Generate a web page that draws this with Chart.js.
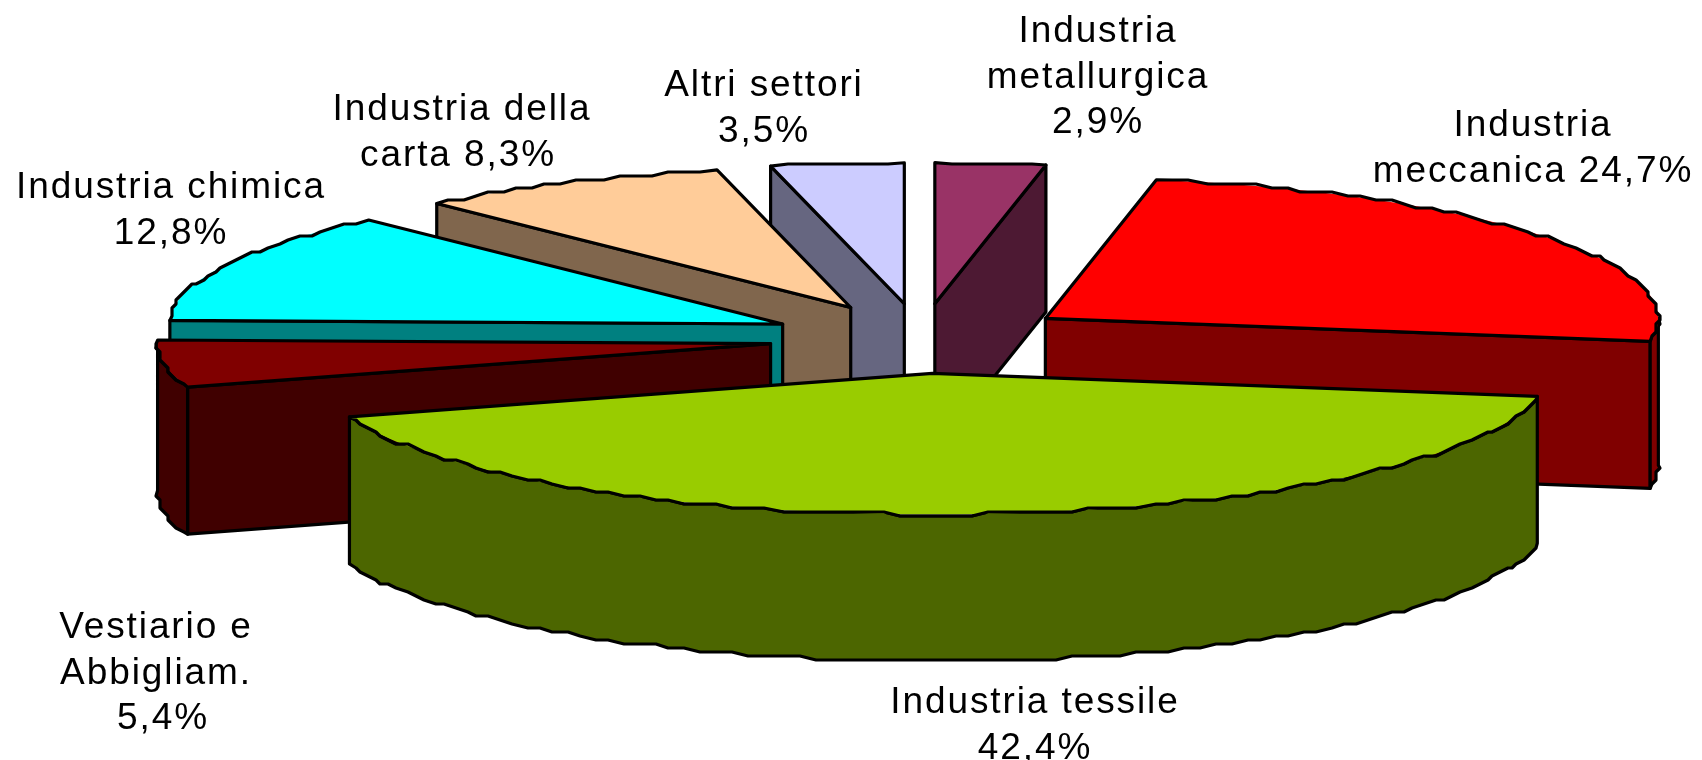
<!DOCTYPE html>
<html>
<head>
<meta charset="utf-8">
<style>html,body{margin:0;padding:0;background:#fff}#w{width:1702px;height:760px}canvas{display:block}</style>
<script src="https://cdn.jsdelivr.net/npm/chart.js@4/dist/chart.umd.min.js"></script>
</head>
<body>
<div id="w"><canvas id="c" width="1702" height="760"></canvas></div>
<script>
const categories = ['Industria metallurgica','Industria meccanica','Industria tessile','Vestiario e Abbigliam.','Industria chimica','Industria della carta','Altri settori'];
const values = [2.9,24.7,42.4,5.4,12.8,8.3,3.5];
const topColors = ['#993366','#FF0000','#99CC00','#800000','#00FFFF','#FFCC99','#CCCCFF'];
const wallColors = ['#4D1933','#800000','#4C6600','#400000','#008080','#80664D','#666680'];
const labelLines = [
  ['Industria','metallurgica','2,9%'],
  ['Industria','meccanica 24,7%'],
  ['Industria tessile','42,4%'],
  ['Vestiario e','Abbigliam.','5,4%'],
  ['Industria chimica','12,8%'],
  ['Industria della','carta 8,3%'],
  ['Altri settori','3,5%']
];
// label anchor: centre x, first baseline y, and each line's small x shift
const labelAnchorX = [1098,1533,1035,156,171,460,764];
const labelAnchorY = [42,136,713,638,198,120,96];
const labelLineShift = [[0,0,0],[0,0],[0,0],[0,0,7],[0,0],[2,-2],[0,0]];

const SQUASH = 0.23, EXPLODE = 152, DEPTH = 147, LINE = 3.2, JAG = 4;

const pie3d = {
  id:'pie3d',
  beforeDatasetsDraw(chart){
    const ctx = chart.ctx, meta = chart.getDatasetMeta(0);
    const mid = a => (a.startAngle + a.endAngle)/2;
    const order = meta.data.map((a,i)=>({a,i})).sort((p,q)=>Math.sin(mid(p.a))-Math.sin(mid(q.a)));
    ctx.lineJoin='round'; ctx.lineWidth=LINE; ctx.strokeStyle='#000';
    for(const {a,i} of order){
      const m = mid(a), ox=a.x+Math.cos(m)*EXPLODE, oy=a.y+Math.sin(m)*EXPLODE*SQUASH;
      const r=a.outerRadius, s=a.startAngle, e=a.endAngle;
      const pt=(t,d=0)=>[ox+r*Math.cos(t), oy+r*Math.sin(t)*SQUASH+d];
      // the rim as the reference's coarse, stepped polyline
      const rim=(lo,hi,d=0)=>{
        const n=Math.max(2,Math.round((hi-lo)/(1.6*Math.PI/180))),pts=[];
        for(let j=0;j<=n;j++){
          const p=pt(lo+(hi-lo)*j/n,d);
          pts.push(j===0||j===n?p:[Math.round(p[0]/JAG)*JAG,Math.round(p[1]/JAG)*JAG]);
        }
        return pts;
      };
      const poly=(pts)=>{ctx.beginPath();pts.forEach((p,k)=>k?ctx.lineTo(p[0],p[1]):ctx.moveTo(p[0],p[1]));ctx.closePath();ctx.fillStyle=wallColors[i];ctx.fill();ctx.stroke();};
      const apex=[ox,oy], apexD=[ox,oy+DEPTH];
      if(Math.cos(s)<-1e-3) poly([apex,pt(s),pt(s,DEPTH),apexD]);
      if(Math.cos(e)>1e-3) poly([apex,pt(e),pt(e,DEPTH),apexD]);
      // rim wall: portions of the slice facing the viewer (sin > 0)
      for(const k of [-1,0,1]){
        const lo=Math.max(s,k*2*Math.PI), hi=Math.min(e,k*2*Math.PI+Math.PI);
        if(hi>lo) poly([...rim(lo,hi),...rim(lo,hi,DEPTH).reverse()]);
      }
      // top face: the library's own arc, flattened
      ctx.save();
      ctx.translate(ox,oy);ctx.scale(1,SQUASH);ctx.translate(-a.x,-a.y);
      a.draw(ctx);
      ctx.restore();
      // outline of top face
      ctx.beginPath();ctx.moveTo(ox,oy);
      for(const p of rim(s,e))ctx.lineTo(p[0],p[1]);
      ctx.closePath();ctx.stroke();
    }
    return false;
  },
  afterDraw(chart){
    const ctx=chart.ctx;
    ctx.save();
    ctx.fillStyle='#000';ctx.textAlign='center';ctx.textBaseline='alphabetic';
    ctx.font='37px "Liberation Sans", Arial, sans-serif';
    ctx.letterSpacing='1.9px';
    labelLines.forEach((lines,i)=>lines.forEach((t,k)=>ctx.fillText(t,labelAnchorX[i]+labelLineShift[i][k],labelAnchorY[i]+k*45.5)));
    ctx.restore();
  }
};

new Chart(document.getElementById('c'),{
  type:'pie',
  data:{labels:categories,datasets:[{data:values,backgroundColor:topColors,borderWidth:0,offset:0}]},
  options:{
    responsive:false,animation:false,
    radius:613,
    rotation:0,
    layout:{padding:{left:140,bottom:83,top:0,right:0}},
    plugins:{legend:{display:false},tooltip:{enabled:false},title:{display:false}}
  },
  plugins:[pie3d,{id:'bg',beforeDraw(c){c.ctx.save();c.ctx.fillStyle='#fff';c.ctx.fillRect(0,0,c.width,c.height);c.ctx.restore();}}]
});
</script>
</body>
</html>
